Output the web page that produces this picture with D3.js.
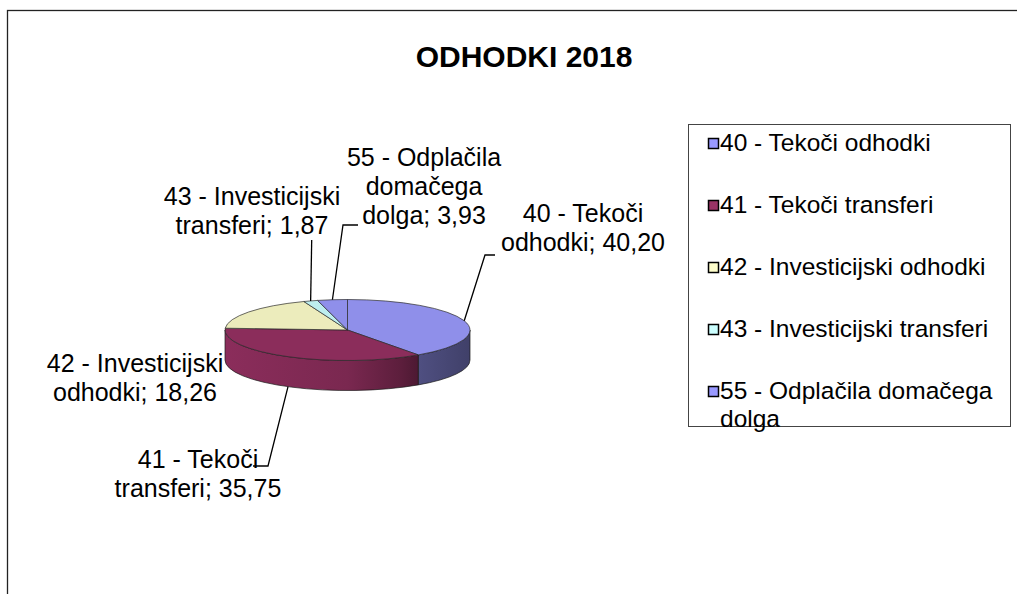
<!DOCTYPE html>
<html>
<head>
<meta charset="utf-8">
<script src="https://cdn.jsdelivr.net/npm/d3@7"></script>
<style>
  body { margin: 0; background: #fff; }
  svg { display: block; font-family: "Liberation Sans", Arial, sans-serif; }
</style>
</head>
<body>
<svg></svg>
<script>
//	chart data
var categories = ["40 - Tekoči odhodki", "41 - Tekoči transferi", "42 - Investicijski odhodki",
    "43 - Investicijski transferi", "55 - Odplačila domačega dolga"];
var values = [40.20, 35.75, 18.26, 1.87, 3.93];
var labelLines = [
    ["40 - Tekoči", "odhodki; 40,20"],
    ["41 - Tekoči", "transferi; 35,75"],
    ["42 - Investicijski", "odhodki; 18,26"],
    ["43 - Investicijski", "transferi; 1,87"],
    ["55 - Odplačila", "domačega", "dolga; 3,93"]
];
var legendLines = [
    ["40 - Tekoči odhodki"],
    ["41 - Tekoči transferi"],
    ["42 - Investicijski odhodki"],
    ["43 - Investicijski transferi"],
    ["55 - Odplačila domačega", "dolga"]
];
var title = "ODHODKI 2018";

//	colours
var palette = ["#9999ff", "#993366", "#ffffcc", "#ccffff", "#9999ff"];
var topPalette = ["#8f8fea", "#8b2d5b", "#ececbc", "#bdeeee", "#8f8fea"];

var width = 1017, height = 594;
var svg = d3.select("svg").attr("width", width).attr("height", height);

//	pie geometry
var cx = 347.5, cy = 330, rx = 122.5, ry = 30.5, depth = 30;

//	label layout: text centre x, first baseline y, leader elbow and end
var labelPos = [
    {x: 583, y: 222, elbow: [485, 255], end: [495, 255]},
    {x: 198, y: 468, elbow: [268, 466], end: [253, 466]},
    {x: 135, y: 372, elbow: null, end: null},
    {x: 252, y: 205, elbow: [311.7, 240], end: null},
    {x: 424, y: 166, elbow: [343, 225], end: [358, 225]}
];
var lineHeight = 29;

var color = d3.scaleOrdinal().domain(categories).range(palette);
var topColor = d3.scaleOrdinal().domain(categories).range(topPalette);

//	chart frame
svg.append("rect")
    .attr("x", 7.5).attr("y", 10.5)
    .attr("width", 1100).attr("height", 700)
    .attr("fill", "none")
    .attr("stroke", "#222")
    .attr("stroke-width", 1.3);

svg.append("text")
    .attr("x", 524).attr("y", 67)
    .attr("text-anchor", "middle")
    .attr("font-size", 30)
    .attr("font-weight", "bold")
    .text(title);

//	pie angles
var pie = d3.pie().sort(null).value(function(d) { return d; });
var arcs = pie(values);

function pt(a, dy) {
    return [cx + rx * Math.sin(a), cy - ry * Math.cos(a) + (dy || 0)];
}

function topPath(d) {
    var p0 = pt(d.startAngle), p1 = pt(d.endAngle);
    var large = (d.endAngle - d.startAngle) > Math.PI ? 1 : 0;
    return "M" + cx + "," + cy + "L" + p0 + "A" + rx + "," + ry + " 0 " + large + " 1 " + p1 + "Z";
}

function sidePath(d) {
    var s0 = Math.max(d.startAngle, Math.PI / 2), s1 = Math.min(d.endAngle, 3 * Math.PI / 2);
    if (s0 >= s1) return null;
    return "M" + pt(s0) + "A" + rx + "," + ry + " 0 0 1 " + pt(s1) +
        "L" + pt(s1, depth) + "A" + rx + "," + ry + " 0 0 0 " + pt(s0, depth) + "Z";
}

//	side shading: light on the left, dark on the right
var shade = [[0, 1.0], [0.5, 0.88], [0.72, 0.66], [0.79, 0.55], [1, 0.45]];
var defs = svg.append("defs");
arcs.forEach(function(d, i) {
    var base = d3.rgb(topColor(categories[i]));
    var grad = defs.append("linearGradient")
        .attr("id", "side" + i)
        .attr("gradientUnits", "userSpaceOnUse")
        .attr("x1", cx - rx).attr("x2", cx + rx)
        .attr("y1", 0).attr("y2", 0);
    shade.forEach(function(s) {
        grad.append("stop")
            .attr("offset", s[0])
            .attr("stop-color", d3.rgb(base.r * s[1], base.g * s[1], base.b * s[1]));
    });
});

var g = svg.append("g");

g.selectAll(".side")
    .data(arcs.filter(function(d) { return sidePath(d) !== null; }))
    .enter().append("path")
    .attr("class", "side")
    .attr("d", sidePath)
    .attr("fill", function(d) { return "url(#side" + d.index + ")"; })
    .attr("stroke", "#1a1a1a")
    .attr("stroke-width", 0.7);

g.selectAll(".top")
    .data(arcs)
    .enter().append("path")
    .attr("class", "top")
    .attr("d", topPath)
    .attr("fill", function(d) { return topColor(categories[d.index]); })
    .attr("stroke", "#2a2a2a")
    .attr("stroke-width", 0.7)
    .attr("stroke-linejoin", "round");

//	leader lines
arcs.forEach(function(d, i) {
    var lp = labelPos[i];
    if (!lp.elbow) return;
    var mid = (d.startAngle + d.endAngle) / 2;
    var front = Math.cos(mid) < 0;
    var start = pt(mid, front ? depth : 0);
    var pts = [start, lp.elbow];
    if (lp.end) pts.push(lp.end);
    svg.append("path")
        .attr("d", d3.line()(pts))
        .attr("fill", "none")
        .attr("stroke", "#000")
        .attr("stroke-width", 1.3);
});

//	data labels
labelLines.forEach(function(lines, i) {
    var t = svg.append("text")
        .attr("text-anchor", "middle")
        .attr("font-size", 25)
        .attr("fill", "#000");
    lines.forEach(function(s, j) {
        t.append("tspan")
            .attr("x", labelPos[i].x)
            .attr("y", labelPos[i].y + j * lineHeight)
            .text(s);
    });
});

//	legend
var legend = svg.append("g");
legend.append("rect")
    .attr("x", 688.5).attr("y", 124.5)
    .attr("width", 322).attr("height", 302)
    .attr("fill", "#fff")
    .attr("stroke", "#444")
    .attr("stroke-width", 1);

var item = legend.selectAll(".item")
    .data(categories)
    .enter().append("g")
    .attr("class", "item")
    .attr("transform", function(d, i) { return "translate(0," + (151 + i * 62) + ")"; });

item.append("rect")
    .attr("x", 708.5).attr("y", -12.5)
    .attr("width", 10).attr("height", 10)
    .attr("fill", function(d) { return color(d); })
    .attr("stroke", "#000")
    .attr("stroke-width", 1.5);

item.append("text")
    .attr("font-size", 24.5)
    .each(function(d, i) {
        var t = d3.select(this);
        legendLines[i].forEach(function(s, j) {
            t.append("tspan").attr("x", 720).attr("y", j * 28).text(s);
        });
    });
</script>
</body>
</html>
